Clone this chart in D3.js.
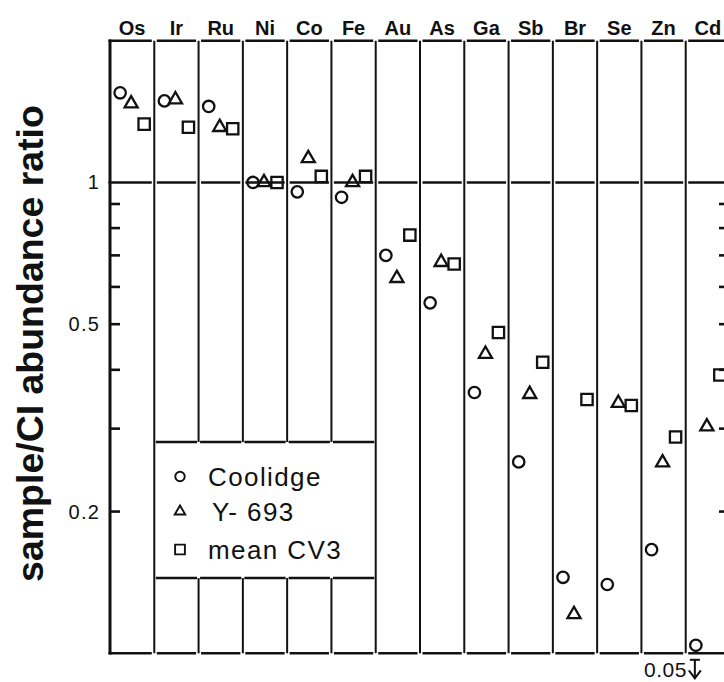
<!DOCTYPE html>
<html><head><meta charset="utf-8">
<script src="https://cdn.jsdelivr.net/npm/d3@7"></script>
<style>html,body{margin:0;padding:0;background:#fff;} svg{display:block;}</style>
</head><body><svg id="c" width="724" height="682"></svg>
<script>
// ---- data ----
const elements = ["Os","Ir","Ru","Ni","Co","Fe","Au","As","Ga","Sb","Br","Se","Zn","Cd"];
const coolidge = [1.55, 1.49, 1.45, 1.00, 0.955, 0.93, 0.70, 0.555, 0.358, 0.255, 0.145, 0.140, 0.166, 0.104];
const y693     = [1.47, 1.50, 1.31, 1.00, 1.125, 1.00, 0.626, 0.677, 0.432, 0.355, 0.121, 0.340, 0.254, 0.303];
const meanCV3  = [1.33, 1.31, 1.30, 1.00, 1.03, 1.03, 0.773, 0.671, 0.480, 0.415, 0.346, 0.336, 0.288, 0.390];
const seriesNames = ["Coolidge", "Y- 693", "mean CV3"];
const minorTicks = [0.9, 0.8, 0.7, 0.6, 0.5, 0.4, 0.3, 0.2];
const labelTicks = [1, 0.5, 0.2];
const yDomain = [0.1, 2];
const offScale = {element: "Cd", label: "0.05"};
const yTitle = "sample/CI abundance ratio";

// ---- layout ----
const pLeft = 110, pRight = 730, pTop = 40.7, pBottom = 653.3;
const legendTop = 442, legendBottom = 578;
const ink = "#111";
const svg = d3.select("#c");
const x = d3.scaleBand().domain(elements).range([pLeft, pRight]);
const y = d3.scaleLog().domain(yDomain).range([pBottom, pTop]);
const bw = x.bandwidth();
const font = "'Liberation Sans', Arial, sans-serif";

const series = [
  {name: seriesNames[0], values: coolidge, type: d3.symbolCircle, size: 102, lsize: 70, off: -12},
  {name: seriesNames[1], values: y693, type: d3.symbolTriangle, size: 74, lsize: 48, off: -1},
  {name: seriesNames[2], values: meanCV3, type: d3.symbolSquare, size: 128, lsize: 96, off: 12}
];

const g = svg.append("g").attr("stroke", ink).attr("fill", "none");

// horizontal frame lines (segmented per column)
const hLine = (yy, w) => {
  elements.forEach((e, i) => {
    const x0 = x(e) + (i === 0 ? -1.5 : 2.5), x1 = x(e) + bw - 2.5;
    g.append("line").attr("x1", x0).attr("x2", x1).attr("y1", yy).attr("y2", yy).attr("stroke-width", w);
  });
};
hLine(pTop, 2.6);
hLine(y(1), 2.4);
hLine(pBottom, 2.6);

// legend box lines
elements.slice(1, 6).forEach(e => {
  [legendTop, legendBottom].forEach(yy => {
    g.append("line").attr("x1", x(e) + 1.5).attr("x2", x(e) + bw - 1.5)
      .attr("y1", yy).attr("y2", yy).attr("stroke-width", 2.4);
  });
});

// left axis
g.append("line").attr("x1", pLeft).attr("x2", pLeft).attr("y1", pTop - 1.3).attr("y2", pBottom + 1.3).attr("stroke-width", 3);
// column separators
elements.forEach((e, i) => {
  if (i === 0) return;
  const xx = x(e);
  if (i >= 2 && i <= 5) {
    g.append("line").attr("x1", xx).attr("x2", xx).attr("y1", pTop).attr("y2", legendTop).attr("stroke-width", 2);
    g.append("line").attr("x1", xx).attr("x2", xx).attr("y1", legendBottom).attr("y2", pBottom).attr("stroke-width", 2);
  } else {
    g.append("line").attr("x1", xx).attr("x2", xx).attr("y1", pTop).attr("y2", pBottom).attr("stroke-width", 2);
  }
});
// right axis (just outside view)
g.append("line").attr("x1", pRight).attr("x2", pRight).attr("y1", pTop).attr("y2", pBottom).attr("stroke-width", 2);

// ticks
minorTicks.forEach(v => {
  g.append("line").attr("x1", pLeft).attr("x2", pLeft + 10).attr("y1", y(v)).attr("y2", y(v)).attr("stroke-width", 2.6);
  g.append("line").attr("x1", pRight).attr("x2", pRight - 11).attr("y1", y(v)).attr("y2", y(v)).attr("stroke-width", 2.6);
});

// tick labels
svg.selectAll(".tl").data(labelTicks).join("text")
  .attr("x", 100).attr("y", d => y(d) + 7)
  .attr("text-anchor", "end")
  .attr("font-family", font).attr("font-size", 20).attr("letter-spacing", 1.2)
  .attr("fill", ink)
  .text(d => d3.format("")(d));

// column labels
svg.selectAll(".cl").data(elements).join("text")
  .attr("x", d => x(d) + bw / 2).attr("y", 35)
  .attr("text-anchor", "middle")
  .attr("font-family", font).attr("font-size", 20).attr("font-weight", "bold")
  .attr("fill", ink)
  .text(d => d);

// y title
const yt = svg.append("text")
  .attr("transform", "translate(43,343.5) rotate(-90)")
  .attr("text-anchor", "middle")
  .attr("font-family", font).attr("font-weight", "bold").attr("font-size", 37)
  .attr("fill", ink)
  .text(yTitle);
const len = yt.node().getComputedTextLength();
yt.attr("font-size", 37 * 477 / len);

// markers
series.forEach(s => {
  const sym = d3.symbol().type(s.type).size(s.size);
  svg.append("g").selectAll("path").data(elements.map((e, i) => ({e, v: s.values[i]}))).join("path")
    .attr("d", sym)
    .attr("transform", d => `translate(${x(d.e) + bw / 2 + s.off},${y(d.v)})`)
    .attr("fill", "none").attr("stroke", ink).attr("stroke-width", 2.3);
});

// off-scale annotation (Cd, Coolidge)
const ax = x(offScale.element) + bw / 2 + series[0].off - 1;
const ag = svg.append("g").attr("stroke", ink).attr("fill", "none").attr("stroke-width", 2);
ag.append("line").attr("x1", ax - 5).attr("x2", ax + 5).attr("y1", pBottom + 6.5).attr("y2", pBottom + 6.5);
ag.append("line").attr("x1", ax).attr("x2", ax).attr("y1", pBottom + 6.5).attr("y2", pBottom + 25);
ag.append("polyline").attr("points", `${ax - 6},${pBottom + 17} ${ax},${pBottom + 25} ${ax + 6},${pBottom + 17}`);
svg.append("text").attr("x", ax - 8).attr("y", pBottom + 23.5)
  .attr("text-anchor", "end")
  .attr("font-family", font).attr("font-size", 21).attr("letter-spacing", 0.5)
  .attr("fill", ink).text(offScale.label);

// legend
const lgx = 180, lgTextX = 208;
const rows = [476.5, 511.5, 549.5];
series.forEach((s, i) => {
  svg.append("path").attr("d", d3.symbol().type(s.type).size(s.lsize)())
    .attr("transform", `translate(${lgx},${rows[i]})`)
    .attr("fill", "none").attr("stroke", ink).attr("stroke-width", 1.9);
  svg.append("text").attr("x", lgTextX + (i === 1 ? 4 : 0)).attr("y", rows[i] + 9)
    .attr("font-family", font).attr("font-size", 26).attr("letter-spacing", 1.4)
    .attr("fill", ink).text(s.name);
});
</script>
</body></html>
